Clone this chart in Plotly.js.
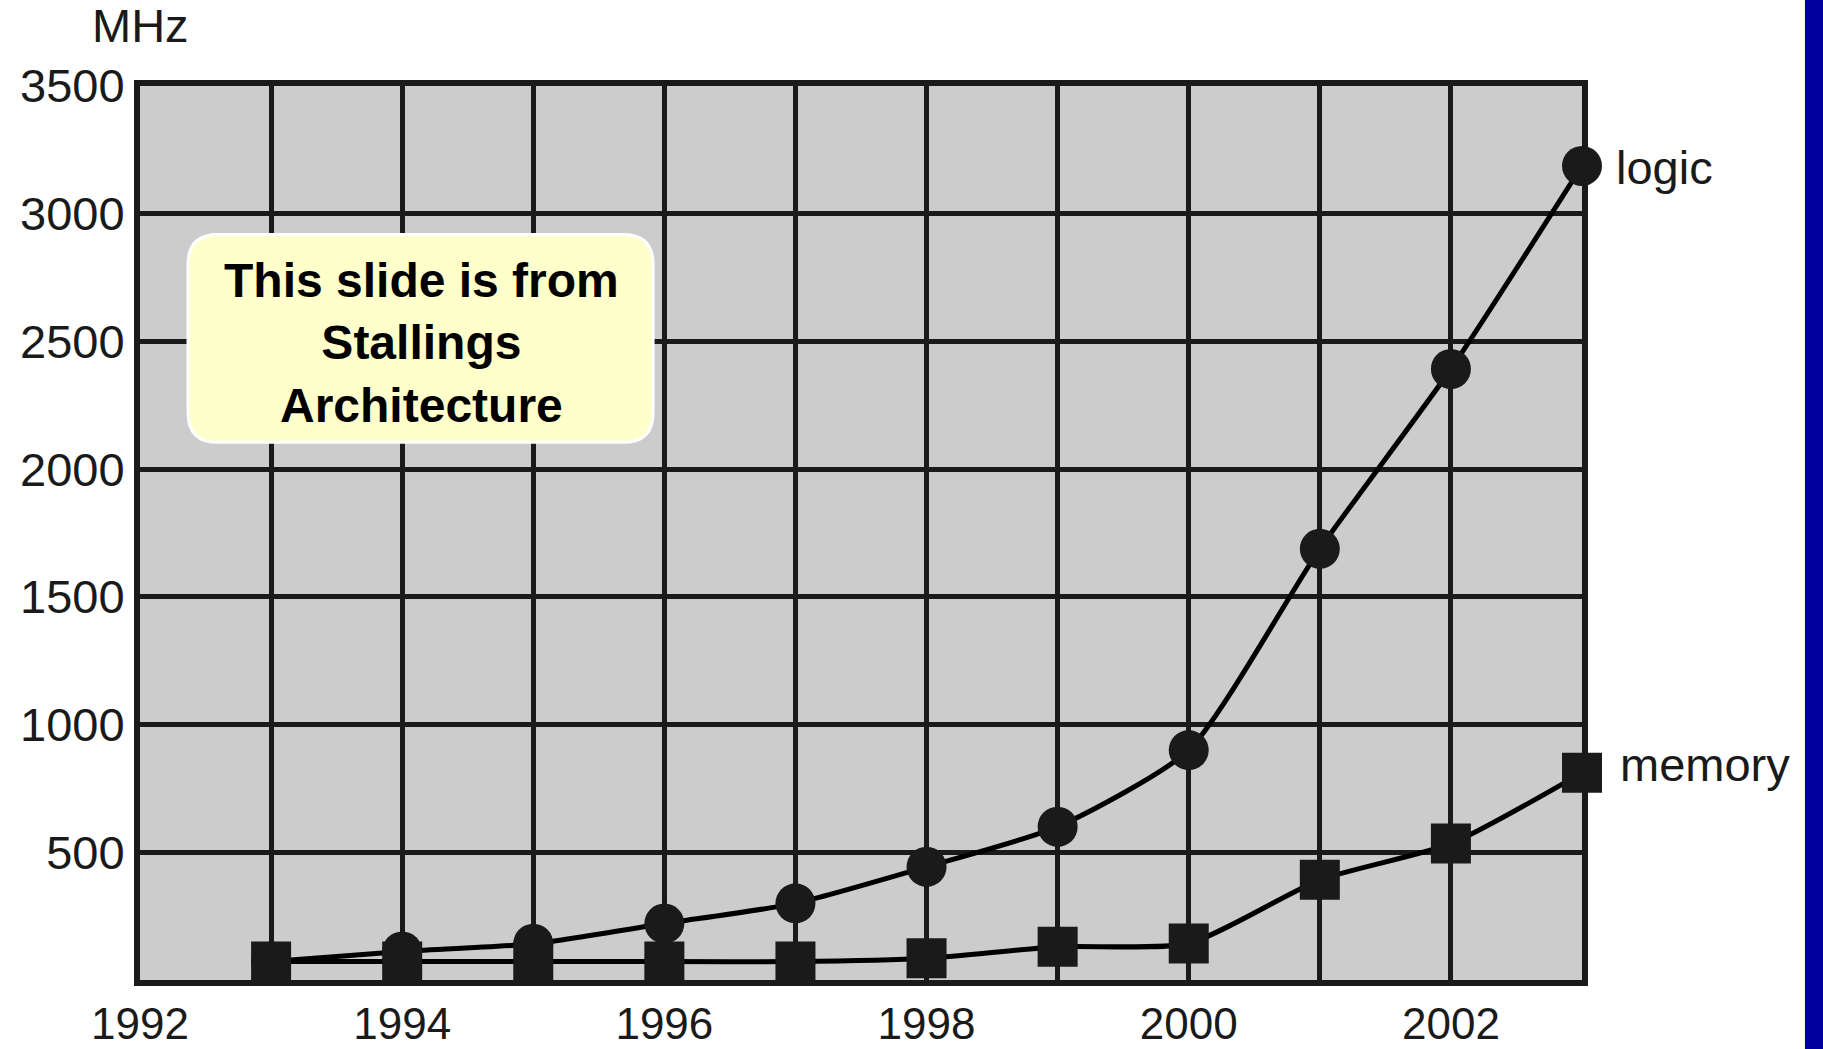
<!DOCTYPE html>
<html>
<head>
<meta charset="utf-8">
<script src="https://cdn.plot.ly/plotly-3.0.1.min.js"></script>
<style>
  html, body { margin: 0; padding: 0; background: #ffffff; }
  #chart { width: 1823px; height: 1049px; }
</style>
</head>
<body>
<div id="chart"></div>
<script>
// ---- data ----
const years  = [1993, 1994, 1995, 1996, 1997, 1998, 1999, 2000, 2001, 2002, 2003];
const logic  = [72, 112, 142, 221, 300, 443, 600, 900, 1688, 2392, 3187];
const memory = [72, 72, 72, 72, 72, 85, 130, 143, 392, 534, 811];
const seriesNames = ["logic", "memory"];

const xTickVals = [1992, 1993, 1994, 1995, 1996, 1997, 1998, 1999, 2000, 2001, 2002, 2003];
const xTickText = ["1992", "", "1994", "", "1996", "", "1998", "", "2000", "", "2002", ""];
const yTickVals = [500, 1000, 1500, 2000, 2500, 3000, 3500];
const yTickText = ["500", "1000", "1500", "2000", "2500", "3000", "3500"];
const yUnit = "MHz";
const noteText = "This slide is from<br>Stallings<br>Architecture";

// ---- styling ----
const INK = "#1a1a1a";
const FONT = "Liberation Sans, Arial, Helvetica, sans-serif";

const traces = [
  {
    x: years, y: logic, name: seriesNames[0], type: "scatter", mode: "lines+markers",
    line: { color: "#000000", width: 5, shape: "spline", smoothing: 0.6 },
    marker: { symbol: "circle", size: 40, color: INK },
    cliponaxis: false, hoverinfo: "x+y"
  },
  {
    x: years, y: memory, name: seriesNames[1], type: "scatter", mode: "lines+markers",
    line: { color: "#000000", width: 5, shape: "spline", smoothing: 0.6 },
    marker: { symbol: "square", size: 40, color: INK },
    cliponaxis: false, hoverinfo: "x+y"
  }
];

// rounded rectangle for the note (paper coordinates)
const bx0 = 0.0333, bx1 = 0.3558, by0 = 0.6014, by1 = 0.8339, rx = 0.0208, ry = 0.0335;
const notePath =
  `M ${bx0+rx},${by1} L ${bx1-rx},${by1} Q ${bx1},${by1} ${bx1},${by1-ry} ` +
  `L ${bx1},${by0+ry} Q ${bx1},${by0} ${bx1-rx},${by0} ` +
  `L ${bx0+rx},${by0} Q ${bx0},${by0} ${bx0},${by0+ry} ` +
  `L ${bx0},${by1-ry} Q ${bx0},${by1} ${bx0+rx},${by1} Z`;

const layout = {
  width: 1823, height: 1049,
  margin: { l: 140, r: 241, t: 86, b: 69, pad: 0 },
  paper_bgcolor: "#ffffff",
  plot_bgcolor: "#cccccc",
  showlegend: false,
  font: { family: FONT, color: INK, size: 47 },
  xaxis: {
    range: [1992, 2003], tickmode: "array", tickvals: xTickVals, ticktext: xTickText,
    showgrid: true, gridcolor: INK, gridwidth: 5,
    zeroline: false, showline: true, linecolor: INK, linewidth: 6, mirror: true,
    ticks: "", ticklabelstandoff: 0,
    tickfont: { family: FONT, size: 44, color: INK }, fixedrange: true
  },
  yaxis: {
    range: [0, 3500], tickmode: "array", tickvals: yTickVals, ticktext: yTickText,
    showgrid: true, gridcolor: INK, gridwidth: 5,
    zeroline: false, showline: true, linecolor: INK, linewidth: 6, mirror: true,
    ticks: "", ticklabelstandoff: 0,
    tickfont: { family: FONT, size: 47, color: INK }, fixedrange: true
  },
  shapes: [
    { type: "path", xref: "paper", yref: "paper", path: notePath, layer: "above",
      fillcolor: "#ffffcc", line: { color: "#ffffff", width: 3 } },
    { type: "rect", xref: "paper", yref: "paper", x0: 1.1546, x1: 1.2, y0: -0.1, y1: 1.2,
      fillcolor: "#00009c", line: { width: 0 }, layer: "above" }
  ],
  annotations: [
    { xref: "paper", yref: "paper", x: 0, y: 1.0674, text: yUnit, showarrow: false,
      xanchor: "center", yanchor: "middle", font: { family: FONT, size: 47, color: INK } },
    { xref: "x", yref: "y", x: years[years.length-1], y: logic[logic.length-1],
      text: seriesNames[0], showarrow: false, xanchor: "left", yanchor: "middle", xshift: 32, yshift: -2,
      font: { family: FONT, size: 47, color: INK } },
    { xref: "x", yref: "y", x: years[years.length-1], y: memory[memory.length-1],
      text: seriesNames[1], showarrow: false, xanchor: "left", yanchor: "middle", xshift: 36, yshift: 8,
      font: { family: FONT, size: 47, color: INK } },
    { xref: "paper", yref: "paper", x: 0.1949, y: 0.712, text: noteText, showarrow: false,
      xanchor: "center", yanchor: "middle", align: "center",
      font: { family: FONT, size: 48, color: "#000000", weight: "bold" } }
  ]
};

Plotly.newPlot("chart", traces, layout, { displayModeBar: false, staticPlot: true });
</script>
</body>
</html>
